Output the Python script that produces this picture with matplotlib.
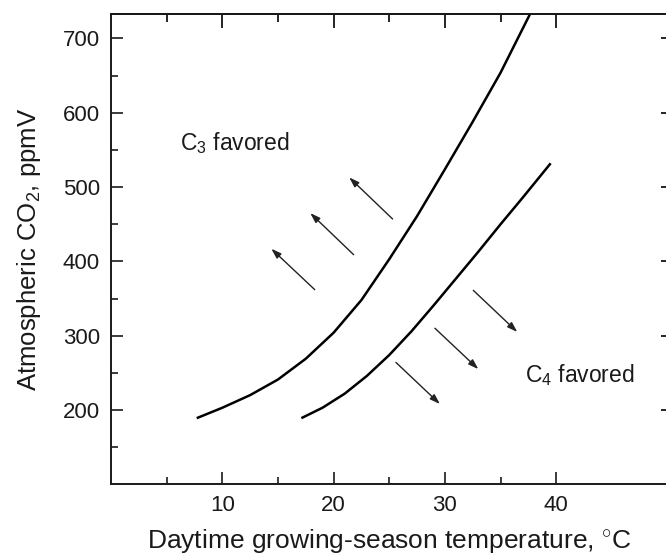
import matplotlib
matplotlib.use('Agg')
import matplotlib.pyplot as plt

plt.rcParams['font.family'] = ['Liberation Sans', 'DejaVu Sans']
plt.rcParams['mathtext.fontset'] = 'custom'
plt.rcParams['mathtext.rm'] = 'Liberation Sans'
plt.rcParams['mathtext.it'] = 'Liberation Sans:italic'

# C3/C4 crossover curves
c3_temp = [7.7, 10, 12.5, 15, 17.5, 20, 22.5, 25, 27.5, 30, 32.5, 35, 37.65]
c3_co2 = [189, 203, 220, 241, 269, 304, 348, 403, 461, 524, 588, 654, 733]

c4_temp = [17.1, 19, 21, 23, 25, 27, 29, 31, 33, 35, 37, 39.5]
c4_co2 = [189, 203, 222, 246, 274, 306, 341, 377, 413, 450, 486, 532]

# arrows: tail -> head
arrow_tail_x = [25.3, 21.8, 18.3, 32.55, 29.1, 25.6]
arrow_tail_y = [457, 409, 362, 361, 310, 264]
arrow_head_x = [21.4, 17.9, 14.4, 36.5, 33.0, 29.55]
arrow_head_y = [513, 465, 417, 305, 255, 208]

x_major = [10, 20, 30, 40]
x_minor = [5, 15, 25, 35]
y_major = [200, 300, 400, 500, 600, 700]
y_minor = [150, 250, 350, 450, 550, 650]

fig = plt.figure(figsize=(6.66, 5.56), dpi=100)
ax = fig.add_axes([0.1667, 0.129, 0.8356, 0.8459])

ax.plot(c3_temp, c3_co2, color='black', lw=1.8, solid_capstyle='butt', solid_joinstyle='round')
ax.plot(c4_temp, c4_co2, color='black', lw=1.8, solid_capstyle='butt', solid_joinstyle='round')

for tx, ty, hx, hy in zip(arrow_tail_x, arrow_tail_y, arrow_head_x, arrow_head_y):
    ax.annotate('', xy=(hx, hy), xytext=(tx, ty),
                arrowprops=dict(arrowstyle='-|>,head_length=0.6,head_width=0.2',
                                lw=1.0, color='#222222', shrinkA=0, shrinkB=0))

ax.text(6.2, 550, 'C$_3$ favored', fontsize=16.5, ha='left', va='baseline', color='#1a1a1a')
ax.text(37.2, 238, 'C$_4$ favored', fontsize=16.5, ha='left', va='baseline', color='#1a1a1a')

ax.set_xlim(0, 50)
ax.set_ylim(100, 733)

ax.set_xticks(x_major)
ax.set_xticks(x_minor, minor=True)
ax.set_yticks(y_major)
ax.set_yticks(y_minor, minor=True)

ax.tick_params(axis='both', which='major', direction='in', length=8.5, width=1.2,
               labelsize=16, pad=8, top=False, right=False, colors='#1a1a1a')
ax.tick_params(axis='both', which='minor', direction='in', length=5, width=1.2,
               top=False, right=False, colors='#1a1a1a')

# top ticks are a bit longer than the bottom ones
top = ax.secondary_xaxis('top')
top.set_xticks(x_major)
top.set_xticks(x_minor, minor=True)
top.tick_params(which='major', direction='in', length=10, width=1.2, labeltop=False)
top.tick_params(which='minor', direction='in', length=6, width=1.2)
top.spines['top'].set_linewidth(1.4)

# right side ticks (spine sits just past the edge of the picture)
sec = ax.secondary_yaxis('right')
sec.set_yticks(y_major)
sec.tick_params(direction='in', length=5, width=1.2, labelright=False)
sec.spines['right'].set_linewidth(1.4)

for s in ax.spines.values():
    s.set_linewidth(1.4)
    s.set_color('#1a1a1a')

ax.set_xlabel('Daytime growing-season temperature, $^{\\circ}$C', fontsize=19, labelpad=8, color='#1a1a1a')
ax.set_ylabel('Atmospheric CO$_2$, ppmV', fontsize=18.5, labelpad=14, color='#1a1a1a')

fig.savefig('out.png', dpi=100)
